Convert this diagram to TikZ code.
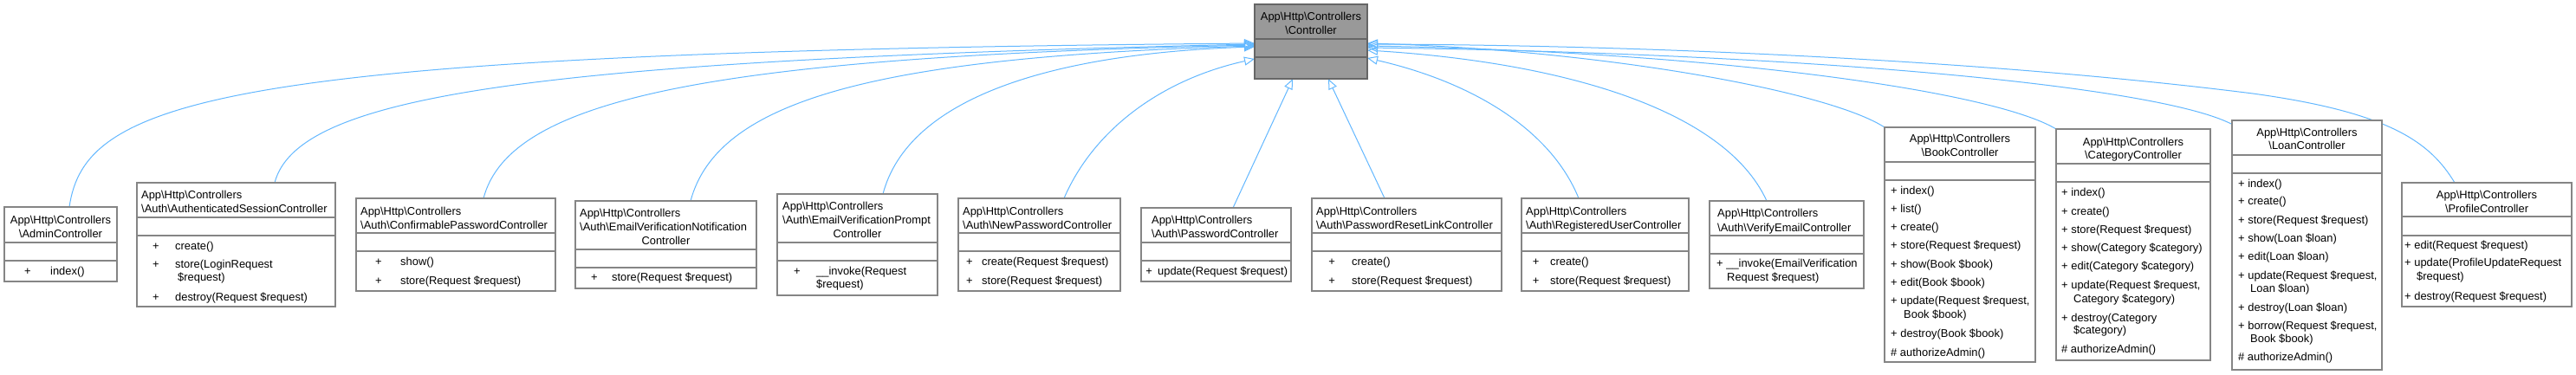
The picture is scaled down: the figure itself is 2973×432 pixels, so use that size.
\documentclass[tikz,border=0pt]{standalone}
\usepackage{fontspec}
\setmainfont{Liberation Sans}
\usetikzlibrary{arrows.meta,fit}
\definecolor{edgeblue}{HTML}{63B8FF}
\definecolor{boxborder}{HTML}{858585}
\definecolor{ctrlfill}{HTML}{999999}
\definecolor{ctrlborder}{HTML}{666666}
\newcommand\bsl{\textbackslash}
\newcommand\txL[4]{\node[txt,anchor=base west] (#1) at (#2,#3) {#4};}
\newcommand\txC[4]{\node[txt,anchor=base] (#1) at (#2,#3) {#4};}
\newcommand\classbox[7]{%
  \node[clsbox,fit={(#2,#3) (#4,#5)}] (#1) {};
  \draw[sepline] (#2,#6) -- (#4,#6);
  \draw[sepline] (#2,#7) -- (#4,#7);}
\tikzset{
  clsbox/.style={draw=boxborder,fill=white,line width=1.5pt,inner sep=0pt,rectangle},
  sepline/.style={draw=boxborder,line width=1.5pt},
  txt/.style={inner sep=0pt,font=\fontsize{12.9}{15}\selectfont,text=black},
  inh/.style={draw=edgeblue,line width=1pt,-{Triangle[open,length=12pt,width=10pt]}}
}
\begin{document}
\begin{tikzpicture}[x=1pt,y=-1pt]
\fill[white] (0,0) rectangle (2973,432);
\useasboundingbox (0,0) rectangle (2973,432);

% ---------- connector end points ----------
\coordinate (e-admin) at (80,239);
\coordinate (e-auth) at (317,211);
\coordinate (e-conf) at (558,229);
\coordinate (e-notif) at (797,232);
\coordinate (e-prompt) at (1019,224);
\coordinate (e-newpw) at (1228,229);
\coordinate (e-pw) at (1423,240);
\coordinate (e-reset) at (1598,229);
\coordinate (e-reg) at (1822,229);
\coordinate (e-verify) at (2039,232);
\coordinate (e-book) at (2175,147);
\coordinate (e-cat) at (2373,149);
\coordinate (e-loan) at (2575,143);
\coordinate (e-prof) at (2833,211);

\coordinate (c-l1) at (1448,50);
\coordinate (c-l2) at (1448,51);
\coordinate (c-l3) at (1448,52);
\coordinate (c-l4) at (1448,53);
\coordinate (c-l5) at (1448,54);
\coordinate (c-l6) at (1448,68);
\coordinate (c-b1) at (1492,91);
\coordinate (c-b2) at (1533,91);
\coordinate (c-r1) at (1578,50);
\coordinate (c-r2) at (1578,51);
\coordinate (c-r3) at (1578,53);
\coordinate (c-r4) at (1578,55);
\coordinate (c-r5) at (1578,58);
\coordinate (c-r6) at (1578,67);

% ---------- connectors ----------
\draw[inh] (e-admin) .. controls (98,115) and (250,60) .. (c-l1);
\draw[inh] (e-auth) .. controls (343,112) and (600,70) .. (c-l2);
\draw[inh] (e-conf) .. controls (588,114) and (820,66) .. (c-l3);
\draw[inh] (e-notif) .. controls (828,116) and (1010,66) .. (c-l4);
\draw[inh] (e-prompt) .. controls (1048,114) and (1210,62) .. (c-l5);
\draw[inh] (e-newpw) .. controls (1262,150) and (1340,92) .. (c-l6);
\draw[inh] (e-pw) -- (c-b1);
\draw[inh] (e-reset) -- (c-b2);
\draw[inh] (e-reg) .. controls (1790,150) and (1700,95) .. (c-r6);
\draw[inh] (e-verify) .. controls (1990,125) and (1800,72) .. (c-r5);
\draw[inh] (e-book) .. controls (2110,105) and (1850,58) .. (c-r1);
\draw[inh] (e-cat) .. controls (2300,105) and (1980,60) .. (c-r3);
\draw[inh] (e-loan) .. controls (2490,100) and (2100,62) .. (c-r4);
\draw[inh] (e-prof) .. controls (2805,165) and (2760,130) .. (2600,108)
                    .. controls (2300,70) and (1900,52) .. (c-r2);

% ---------- base class ----------
\node[draw=ctrlborder,fill=ctrlfill,line width=1.5pt,inner sep=0pt,fit={(1448,5) (1578,91)}] (ctrl) {};
\draw[draw=ctrlborder,line width=1.5pt] (1448,45) -- (1578,45);
\draw[draw=ctrlborder,line width=1.5pt] (1448,66) -- (1578,66);
\txC{ct1}{1513}{23}{App\bsl Http\bsl Controllers}
\txC{ct2}{1513}{39}{\bsl Controller}

% ---------- AdminController ----------
\classbox{admin}{5}{239}{135}{325}{280}{301}
\txC{ad1}{70}{258}{App\bsl Http\bsl Controllers}
\txC{ad2}{70}{274}{\bsl AdminController}
\txC{ad3}{32}{317}{+}
\txL{ad4}{58}{317}{index()}

% ---------- AuthenticatedSessionController ----------
\classbox{auth}{158}{211}{387}{354}{251}{272}
\txL{au1}{163}{229}{App\bsl Http\bsl Controllers}
\txL{au2}{163}{245}{\bsl Auth\bsl AuthenticatedSessionController}
\txC{au3}{180}{288}{+}
\txL{au4}{202}{288}{create()}
\txC{au5}{180}{309}{+}
\txL{au6}{202}{309}{store(LoginRequest}
\txL{au7}{205}{324}{\$request)}
\txC{au8}{180}{347}{+}
\txL{au9}{202}{347}{destroy(Request \$request)}

% ---------- ConfirmablePasswordController ----------
\classbox{conf}{411}{229}{641}{336}{269}{290}
\txL{co1}{416}{248}{App\bsl Http\bsl Controllers}
\txL{co2}{416}{264}{\bsl Auth\bsl ConfirmablePasswordController}
\txC{co3}{437}{306}{+}
\txL{co4}{462}{306}{show()}
\txC{co5}{437}{328}{+}
\txL{co6}{462}{328}{store(Request \$request)}

% ---------- EmailVerificationNotificationController ----------
\classbox{notif}{664}{232}{873}{333}{288}{309}
\txL{no1}{669}{250}{App\bsl Http\bsl Controllers}
\txL{no2}{669}{266}{\bsl Auth\bsl EmailVerificationNotification}
\txC{no3}{768.5}{282}{Controller}
\txC{no4}{686}{324}{+}
\txL{no5}{706}{324}{store(Request \$request)}

% ---------- EmailVerificationPromptController ----------
\classbox{prompt}{897}{224}{1082}{341}{280}{301}
\txL{pr1}{903}{242}{App\bsl Http\bsl Controllers}
\txL{pr2}{903}{258}{\bsl Auth\bsl EmailVerificationPrompt}
\txC{pr3}{989.5}{274}{Controller}
\txC{pr4}{920}{317}{+}
\txL{pr5}{942}{317}{\_\_invoke(Request}
\txL{pr6}{942}{332}{\$request)}

% ---------- NewPasswordController ----------
\classbox{newpw}{1106}{229}{1293}{336}{269}{290}
\txL{np1}{1111}{248}{App\bsl Http\bsl Controllers}
\txL{np2}{1111}{264}{\bsl Auth\bsl NewPasswordController}
\txC{np3}{1119}{306}{+}
\txL{np4}{1133}{306}{create(Request \$request)}
\txC{np5}{1119}{328}{+}
\txL{np6}{1133}{328}{store(Request \$request)}

% ---------- PasswordController ----------
\classbox{pw}{1317}{240}{1490}{325}{280}{301}
\txL{pw1}{1329}{258}{App\bsl Http\bsl Controllers}
\txL{pw2}{1329}{274}{\bsl Auth\bsl PasswordController}
\txC{pw3}{1326}{317}{+}
\txL{pw4}{1336}{317}{update(Request \$request)}

% ---------- PasswordResetLinkController ----------
\classbox{reset}{1514}{229}{1733}{336}{269}{290}
\txL{rs1}{1519}{248}{App\bsl Http\bsl Controllers}
\txL{rs2}{1519}{264}{\bsl Auth\bsl PasswordResetLinkController}
\txC{rs3}{1537}{306}{+}
\txL{rs4}{1560}{306}{create()}
\txC{rs5}{1537}{328}{+}
\txL{rs6}{1560}{328}{store(Request \$request)}

% ---------- RegisteredUserController ----------
\classbox{reg}{1756}{229}{1949}{336}{269}{290}
\txL{rg1}{1761}{248}{App\bsl Http\bsl Controllers}
\txL{rg2}{1761}{264}{\bsl Auth\bsl RegisteredUserController}
\txC{rg3}{1772.5}{306}{+}
\txL{rg4}{1789}{306}{create()}
\txC{rg5}{1772.5}{328}{+}
\txL{rg6}{1789}{328}{store(Request \$request)}

% ---------- VerifyEmailController ----------
\classbox{verify}{1973}{232}{2151}{333}{272}{293}
\txL{ve1}{1982}{250}{App\bsl Http\bsl Controllers}
\txL{ve2}{1982}{267}{\bsl Auth\bsl VerifyEmailController}
\txL{ve3}{1981}{308}{+ \_\_invoke(EmailVerification}
\txL{ve4}{1993}{324}{Request \$request)}

% ---------- BookController ----------
\classbox{book}{2175}{147}{2349}{418}{187}{208}
\txC{bk1}{2262}{164}{App\bsl Http\bsl Controllers}
\txC{bk2}{2262}{180}{\bsl BookController}
\txL{bk3}{2182}{224}{+ index()}
\txL{bk4}{2182}{245}{+ list()}
\txL{bk5}{2182}{266}{+ create()}
\txL{bk6}{2182}{287}{+ store(Request \$request)}
\txL{bk7}{2182}{309}{+ show(Book \$book)}
\txL{bk8}{2182}{330}{+ edit(Book \$book)}
\txL{bk9}{2182}{351}{+ update(Request \$request,}
\txL{bk10}{2197}{367}{Book \$book)}
\txL{bk11}{2182}{389}{+ destroy(Book \$book)}
\txL{bk12}{2182}{411}{\# authorizeAdmin()}

% ---------- CategoryController ----------
\classbox{cat}{2373}{149}{2551}{416}{189}{210}
\txC{ca1}{2462}{168}{App\bsl Http\bsl Controllers}
\txC{ca2}{2462}{183}{\bsl CategoryController}
\txL{ca3}{2379}{226}{+ index()}
\txL{ca4}{2379}{248}{+ create()}
\txL{ca5}{2379}{269}{+ store(Request \$request)}
\txL{ca6}{2379}{290}{+ show(Category \$category)}
\txL{ca7}{2379}{311}{+ edit(Category \$category)}
\txL{ca8}{2379}{333}{+ update(Request \$request,}
\txL{ca9}{2393}{349}{Category \$category)}
\txL{ca10}{2379}{371}{+ destroy(Category}
\txL{ca11}{2393}{385}{\$category)}
\txL{ca12}{2379}{407}{\# authorizeAdmin()}

% ---------- LoanController ----------
\classbox{loan}{2576}{139}{2749}{427}{179}{200}
\txC{lo1}{2662.5}{157}{App\bsl Http\bsl Controllers}
\txC{lo2}{2662.5}{172}{\bsl LoanController}
\txL{lo3}{2583}{216}{+ index()}
\txL{lo4}{2583}{236}{+ create()}
\txL{lo5}{2583}{258}{+ store(Request \$request)}
\txL{lo6}{2583}{279}{+ show(Loan \$loan)}
\txL{lo7}{2583}{300}{+ edit(Loan \$loan)}
\txL{lo8}{2583}{322}{+ update(Request \$request,}
\txL{lo9}{2597}{337}{Loan \$loan)}
\txL{lo10}{2583}{359}{+ destroy(Loan \$loan)}
\txL{lo11}{2583}{380}{+ borrow(Request \$request,}
\txL{lo12}{2597}{395}{Book \$book)}
\txL{lo13}{2583}{416}{\# authorizeAdmin()}

% ---------- ProfileController ----------
\classbox{prof}{2772}{211}{2968}{354}{250}{272}
\txC{pf1}{2870}{229}{App\bsl Http\bsl Controllers}
\txC{pf2}{2870}{245}{\bsl ProfileController}
\txL{pf3}{2775}{287}{+ edit(Request \$request)}
\txL{pf4}{2775}{307}{+ update(ProfileUpdateRequest}
\txL{pf5}{2789}{323}{\$request)}
\txL{pf6}{2775}{346}{+ destroy(Request \$request)}
\end{tikzpicture}
\end{document}
